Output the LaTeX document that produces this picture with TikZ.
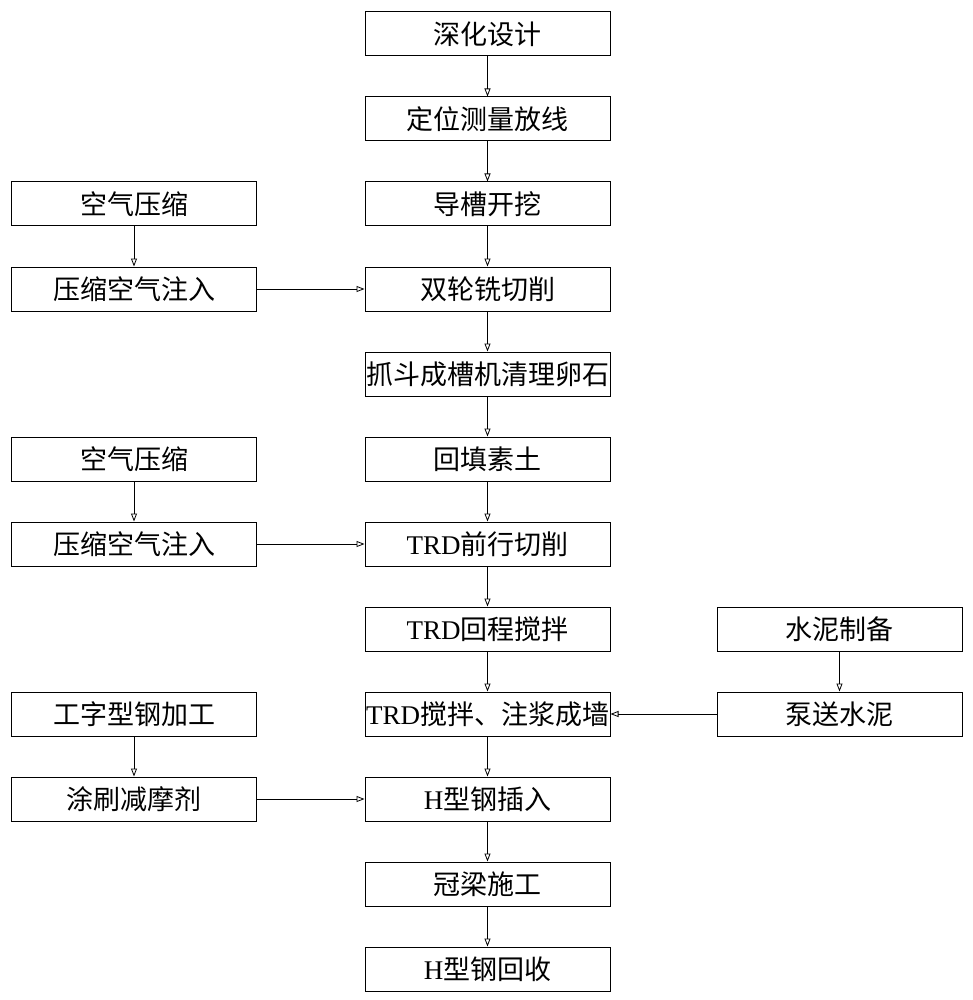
\documentclass[tikz,border=0pt]{standalone}
\usepackage{fontspec}
\setmainfont{Liberation Serif}
\newfontfamily\cjk{Noto Sans CJK SC}
\usetikzlibrary{arrows.meta}
\newcommand\zh[1]{{\cjk #1}}
\begin{document}
\begin{tikzpicture}[x=1pt,y=-1pt,
  box/.style={draw, line width=1pt, minimum width=245pt, minimum height=44pt, inner sep=0pt,
    font=\fontsize{27}{30}\selectfont},
  arr/.style={draw, line width=0.8pt, -{Triangle[open,length=8pt,width=6pt]}}]
\useasboundingbox[fill=white] (0,0) rectangle (972,1000);
% centre column
\node[box] (c1) at (487.5,34) {\zh{深化设计}};
\node[box] (c2) at (487.5,119) {\zh{定位测量放线}};
\node[box] (c3) at (487.5,204) {\zh{导槽开挖}};
\node[box] (c4) at (487.5,289) {\zh{双轮铣切削}};
\node[box] (c5) at (487.5,374) {\zh{抓斗成槽机清理卵石}};
\node[box] (c6) at (487.5,459) {\zh{回填素土}};
\node[box] (c7) at (487.5,544) {TRD\zh{前行切削}};
\node[box] (c8) at (487.5,629) {TRD\zh{回程搅拌}};
\node[box] (c9) at (487.5,714) {TRD\zh{搅拌、注浆成墙}};
\node[box] (c10) at (487.5,799) {H\zh{型钢插入}};
\node[box] (c11) at (487.5,884) {\zh{冠梁施工}};
\node[box] (c12) at (487.5,969) {H\zh{型钢回收}};
% left column
\node[box] (l1) at (134,204) {\zh{空气压缩}};
\node[box] (l2) at (134,289) {\zh{压缩空气注入}};
\node[box] (l3) at (134,459) {\zh{空气压缩}};
\node[box] (l4) at (134,544) {\zh{压缩空气注入}};
\node[box] (l5) at (134,714) {\zh{工字型钢加工}};
\node[box] (l6) at (134,799) {\zh{涂刷减摩剂}};
% right column
\node[box] (r1) at (839.5,629) {\zh{水泥制备}};
\node[box] (r2) at (839.5,714) {\zh{泵送水泥}};
% connectors
\foreach \a/\b in {c1/c2,c2/c3,c3/c4,c4/c5,c5/c6,c6/c7,c7/c8,c8/c9,c9/c10,c10/c11,c11/c12,
  l1/l2,l3/l4,l5/l6,r1/r2}
  \draw[arr] (\a) -- (\b);
\draw[arr] (l2) -- (c4);
\draw[arr] (l4) -- (c7);
\draw[arr] (l6) -- (c10);
\draw[arr] (r2) -- (c9);
\end{tikzpicture}
\end{document}
